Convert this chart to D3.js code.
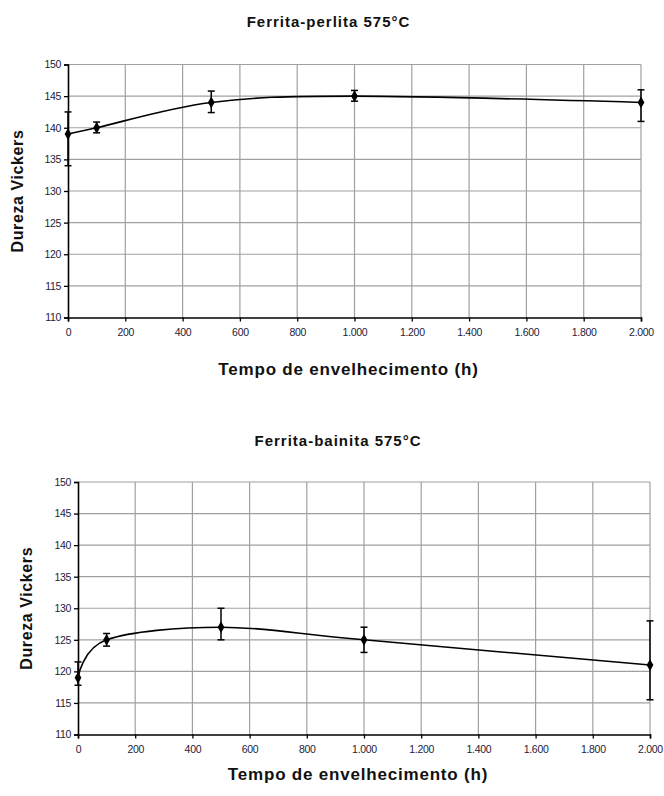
<!DOCTYPE html>
<html>
<head>
<meta charset="utf-8">
<script src="https://cdn.jsdelivr.net/npm/d3@7"></script>
<style>
  html, body { margin: 0; padding: 0; background: #fff; }
  svg { display: block; font-family: "Liberation Sans", Arial, sans-serif; }
</style>
</head>
<body>
<svg id="chart" width="664" height="796"></svg>
<script>
// ---- data ----
const hours = [0, 100, 500, 1000, 2000];

const perlitaTitle = "Ferrita-perlita 575°C";
const perlitaHV = [139, 140, 144, 145, 144];
const perlitaErrUp = [3.5, 0.9, 1.8, 0.9, 2];
const perlitaErrDown = [5, 0.8, 1.6, 0.8, 3];

const bainitaTitle = "Ferrita-bainita 575°C";
const bainitaHV = [119, 125, 127, 125, 121];
const bainitaErrUp = [2.5, 1, 3, 2, 7];
const bainitaErrDown = [1.2, 1, 2, 2, 5.5];

const xTicks = [0, 200, 400, 600, 800, 1000, 1200, 1400, 1600, 1800, 2000];
const yTicks = [110, 115, 120, 125, 130, 135, 140, 145, 150];
const xTitle = "Tempo de envelhecimento (h)";
const yTitle = "Dureza Vickers";

// ---- drawing ----
const svg = d3.select("#chart");
const fmtX = v => v >= 1000 ? d3.format(",")(v).replace(/,/g, ".") : String(v);

function drawChart(cfg) {
  const { left, right, top, bottom, title, values, errUp, errDown,
          titleY, yTitleX, xTitleY } = cfg;
  const x = d3.scaleLinear().domain([0, 2000]).range([left, right]);
  const y = d3.scaleLinear().domain([110, 150]).range([bottom, top]);
  const g = svg.append("g");

  // gridlines
  g.append("g").selectAll("line").data(xTicks.slice(1)).join("line")
    .attr("x1", d => x(d)).attr("x2", d => x(d))
    .attr("y1", top).attr("y2", bottom)
    .attr("stroke", "#a0a0a0").attr("stroke-width", 1.2);
  g.append("g").selectAll("line").data(yTicks.slice(1)).join("line")
    .attr("x1", left).attr("x2", right)
    .attr("y1", d => y(d)).attr("y2", d => y(d))
    .attr("stroke", "#a0a0a0").attr("stroke-width", 1.2);

  // axes
  const yAxis = d3.axisLeft(y).tickValues(yTicks).tickSize(4).tickPadding(3)
    .tickFormat(d3.format("d"));
  const ya = g.append("g").attr("transform", `translate(${left},0)`).call(yAxis);
  const xAxis = d3.axisBottom(x).tickValues(xTicks).tickSize(4).tickPadding(7)
    .tickFormat(fmtX);
  const xa = g.append("g").attr("transform", `translate(0,${bottom})`).call(xAxis);
  [ya, xa].forEach(a => {
    a.select(".domain").attr("stroke", "#000").attr("stroke-width", 1.6);
    a.selectAll(".tick line").attr("stroke", "#000").attr("stroke-width", 1.3);
    a.selectAll(".tick text").attr("fill", "#1c1c3a")
      .style("font-size", "10.5px").style("font-family", "'Liberation Sans', Arial, sans-serif")
      .attr("letter-spacing", "-0.3");
  });

  // line
  const pts = hours.map((h, i) => [x(h), y(values[i])]);
  const line = d3.line().curve(d3.curveCardinal.tension(0));
  g.append("path").attr("d", line(pts))
    .attr("fill", "none").attr("stroke", "#000").attr("stroke-width", 1.6);

  // error bars
  const eb = g.append("g").attr("stroke", "#000").attr("stroke-width", 1.5);
  hours.forEach((h, i) => {
    const cx = x(h), y1 = y(values[i] + errUp[i]), y2 = y(values[i] - errDown[i]);
    eb.append("line").attr("x1", cx).attr("x2", cx).attr("y1", y1).attr("y2", y2);
    eb.append("line").attr("x1", cx - 3.5).attr("x2", cx + 3.5).attr("y1", y1).attr("y2", y1);
    eb.append("line").attr("x1", cx - 3.5).attr("x2", cx + 3.5).attr("y1", y2).attr("y2", y2);
  });

  // markers (diamonds)
  g.append("g").selectAll("path").data(hours).join("path")
    .attr("transform", (d, i) => `translate(${x(d)},${y(values[i])})`)
    .attr("d", d3.symbol(d3.symbolDiamond, 40)())
    .attr("fill", "#000");

  // titles
  g.append("text").attr("x", (left + right) / 2 - 26).attr("y", titleY)
    .attr("text-anchor", "middle").attr("font-weight", "bold")
    .attr("letter-spacing", "1")
    .style("font-size", "15px").attr("fill", "#111").text(title);
  g.append("text").attr("transform", `translate(${yTitleX},${(top + bottom) / 2}) rotate(-90)`)
    .attr("text-anchor", "middle").attr("font-weight", "bold")
    .attr("letter-spacing", "0.6")
    .style("font-size", "16px").attr("fill", "#111").text(yTitle);
  g.append("text").attr("x", (left + right) / 2 - 6).attr("y", xTitleY)
    .attr("text-anchor", "middle").attr("font-weight", "bold")
    .attr("letter-spacing", "0.8")
    .style("font-size", "17px").attr("fill", "#111").text(xTitle);
}

drawChart({ left: 68, right: 641, top: 64.5, bottom: 317.5,
  title: perlitaTitle, values: perlitaHV, errUp: perlitaErrUp, errDown: perlitaErrDown,
  titleY: 27, yTitleX: 23, xTitleY: 375 });

drawChart({ left: 78, right: 650, top: 482, bottom: 734.5,
  title: bainitaTitle, values: bainitaHV, errUp: bainitaErrUp, errDown: bainitaErrDown,
  titleY: 446, yTitleX: 32, xTitleY: 780 });
</script>
</body>
</html>
